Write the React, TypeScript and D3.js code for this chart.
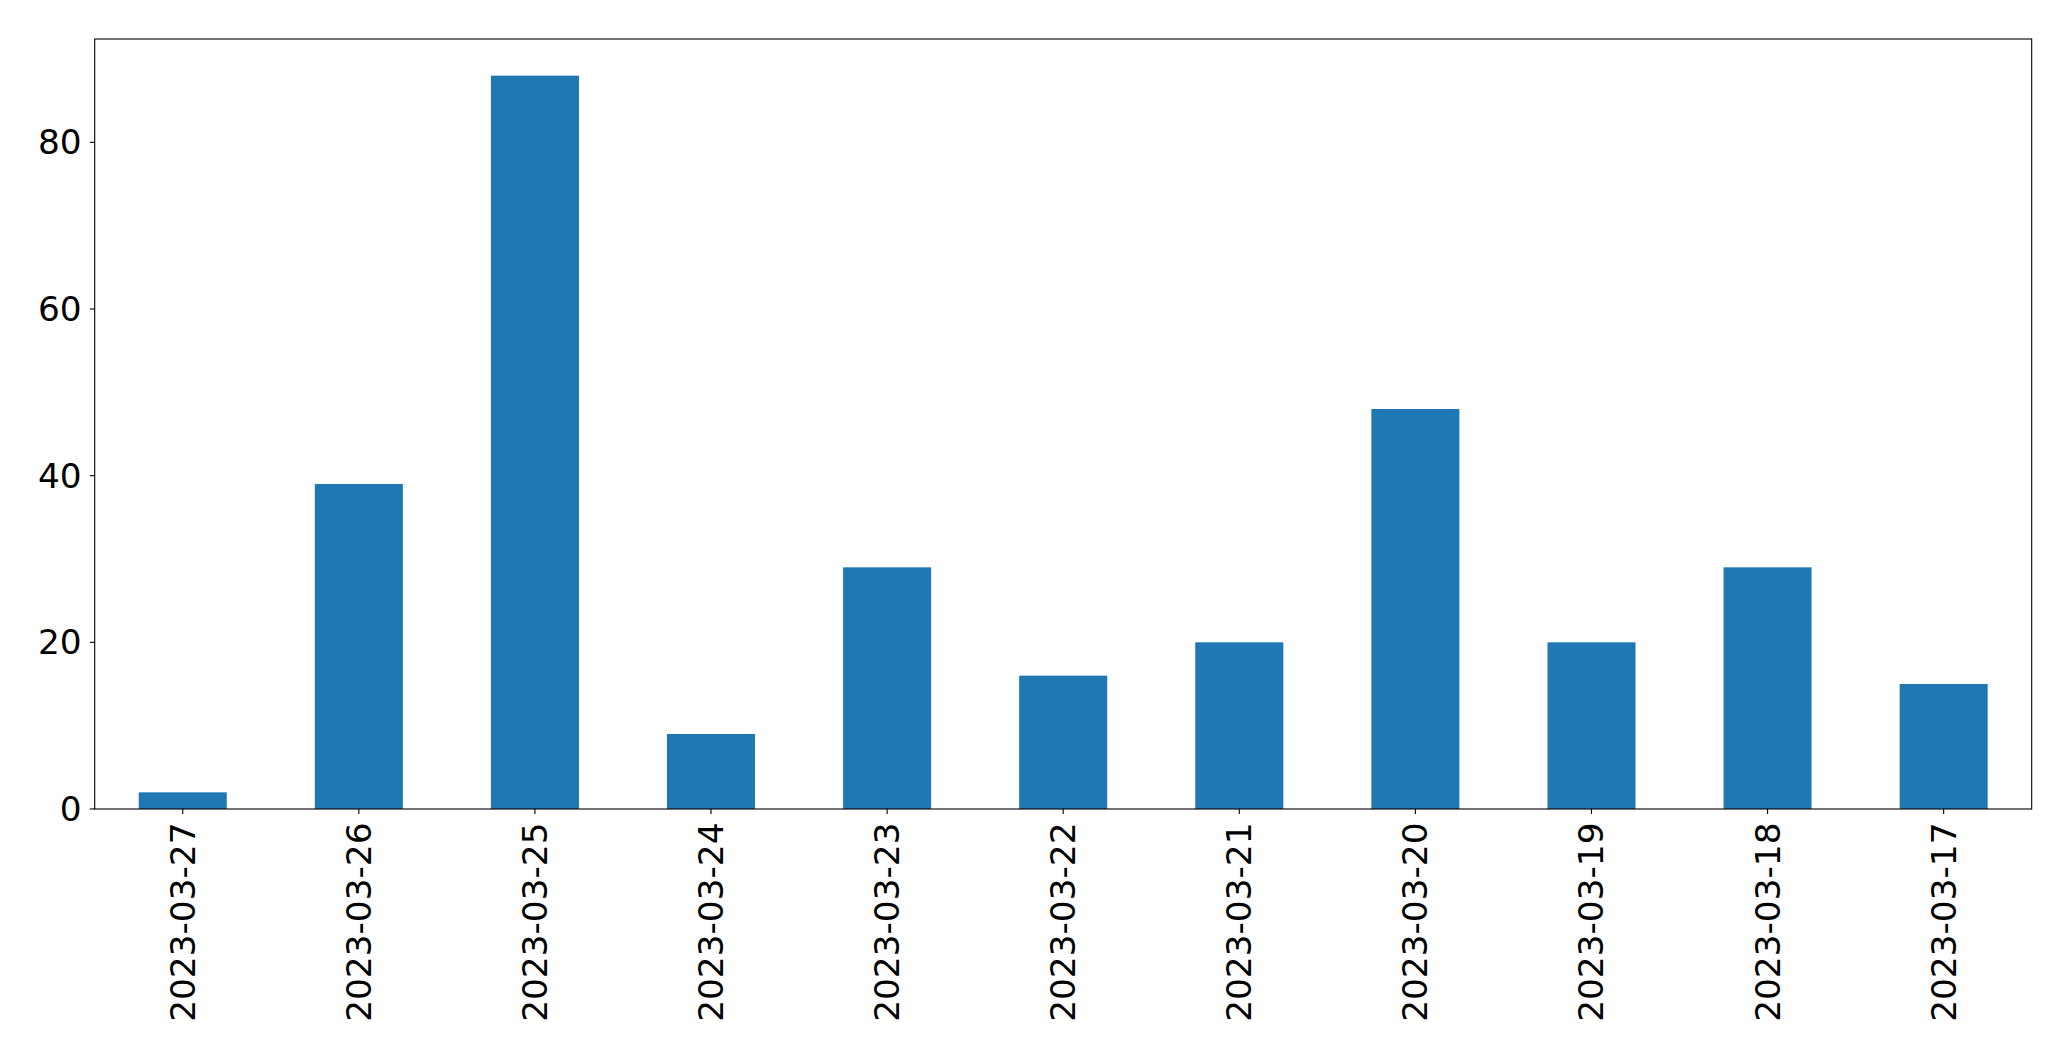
import React from "react";
import * as d3 from "d3";

const categories = [
  "2023-03-27", "2023-03-26", "2023-03-25", "2023-03-24", "2023-03-23", "2023-03-22",
  "2023-03-21", "2023-03-20", "2023-03-19", "2023-03-18", "2023-03-17",
];
const values = [2, 39, 88, 9, 29, 16, 20, 48, 20, 29, 15];
const yTicks = [0, 20, 40, 60, 80];

const W = 2071;
const H = 1061;
const M = { left: 94.7, right: 2071 - 2031.7, top: 39, bottom: 1061 - 809 };
const FONT = "'DejaVu Sans', sans-serif";
const FS = 34.3;

export default function App() {
  const iw = W - M.left - M.right;
  const ih = H - M.top - M.bottom;
  const x = d3.scaleBand<string>().domain(categories).range([0, iw]).paddingInner(0.5).paddingOuter(0.25);
  const ymax = (d3.max(values) ?? 0) * 1.05;
  const y = d3.scaleLinear().domain([0, ymax]).range([ih, 0]);
  const bw = x.bandwidth();
  return (
    <svg width={W} height={H} style={{ position: "absolute", left: 0, top: 0, background: "#fff" }}>
      <g transform={`translate(${M.left},${M.top})`}>
        {values.map((v, i) => (
          <rect key={i} x={x(categories[i])!} y={y(v)} width={bw} height={y(0) - y(v)} fill="#1f77b4" />
        ))}
        {yTicks.map((t) => (
          <g key={t} transform={`translate(0,${y(t)})`}>
            <line x1={-4.9} x2={0} stroke="#000" strokeWidth={1.1} />
            <text x={-13} dy="0.35em" textAnchor="end" fontFamily={FONT} fontSize={FS} fill="#000">
              {t}
            </text>
          </g>
        ))}
        {categories.map((c) => {
          const cx = x(c)! + bw / 2;
          return (
            <g key={c} transform={`translate(${cx},${ih})`}>
              <line y1={0} y2={4.9} stroke="#000" strokeWidth={1.1} />
              <text transform="translate(0,13.5) rotate(-90)" dy="0.35em" textAnchor="end" fontFamily={FONT} fontSize={FS} fill="#000">
                {c}
              </text>
            </g>
          );
        })}
        <rect x={0} y={0} width={iw} height={ih} fill="none" stroke="#000" strokeWidth={1.1} />
      </g>
    </svg>
  );
}
